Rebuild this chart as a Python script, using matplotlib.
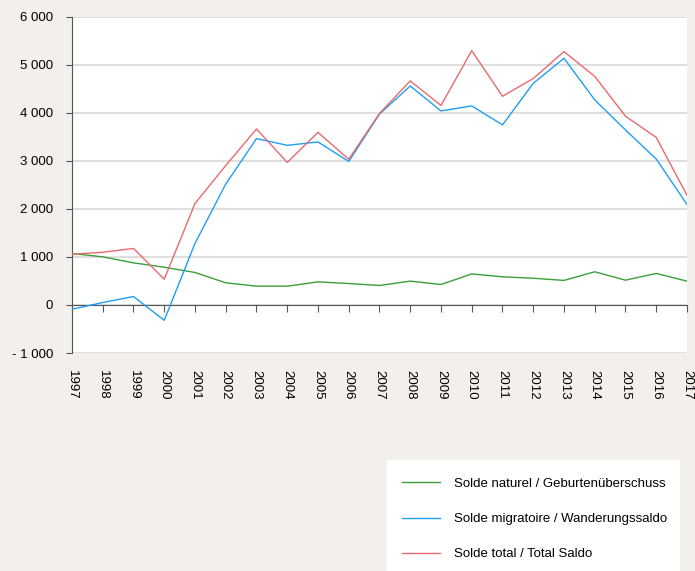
import matplotlib.pyplot as plt
from matplotlib.patches import Rectangle
from matplotlib.ticker import FuncFormatter

plt.rcParams['font.family'] = ['Liberation Sans', 'DejaVu Sans']

# data
years = list(range(1997, 2018))
natural = [1070, 1000, 875, 785, 675, 460, 390, 390, 480, 445, 405,
           495, 425, 645, 585, 555, 510, 690, 515, 655, 495]
migration = [-90, 50, 175, -320, 1280, 2515, 3460, 3320, 3390, 2985, 3970,
             4555, 4035, 4140, 3745, 4610, 5130, 4265, 3640, 3035, 2090]
total = [1055, 1095, 1175, 535, 2110, 2900, 3660, 2965, 3590, 3030, 3985,
         4660, 4150, 5290, 4340, 4710, 5270, 4755, 3925, 3485, 2280]
labels = ['Solde naturel / Geburtenüberschuss',
          'Solde migratoire / Wanderungssaldo',
          'Solde total / Total Saldo']
colors = ['#3A9F3A', '#1E9FF2', '#E86A6E']

W, H = 695, 571
fig = plt.figure(figsize=(W / 100, H / 100), dpi=100)
fig.patch.set_facecolor('#F3EFEB')
ax = fig.add_axes([72 / W, 1 - 353 / H, 615 / W, 336.5 / H])
ax.set_facecolor('white')

for series, lab, col in zip([natural, migration, total], labels, colors):
    ax.plot(years, series, color=col, lw=1.0, label=lab, zorder=3)

ax.set_xlim(1997, 2017)
ax.set_ylim(-1000, 6000)
ax.set_yticks(range(-1000, 6001, 1000))
ax.yaxis.set_major_formatter(FuncFormatter(
    lambda v, p: ('- ' if v < 0 else '') + f'{abs(int(v)):,}'.replace(',', ' ')))
ax.grid(axis='y', color='#DCDCDC', lw=1.3, zorder=0)

for s in ['top', 'right']:
    ax.spines[s].set_visible(False)
ax.spines['left'].set_color('#555555')
ax.spines['bottom'].set_position(('data', 0))
ax.spines['bottom'].set_color('#555555')
ax.spines['bottom'].set_zorder(2)

ax.set_xticks(years)
ax.set_xticklabels([str(y) for y in years], rotation=270)
ax.tick_params(axis='x', length=5, color='#555555', pad=42, labelsize=9.5)
ax.tick_params(axis='y', length=4.5, color='#555555', pad=9, labelsize=9.5)

# legend box
fig.add_artist(Rectangle((387 / W, 0), (680 - 387) / W, (571 - 460) / H,
                         transform=fig.transFigure, facecolor='white',
                         edgecolor='none', zorder=1))
leg = fig.legend(loc='upper left', bbox_to_anchor=(395 / W, 1 - 471 / H),
                 frameon=False, fontsize=9.5, handlelength=2.9,
                 handletextpad=1.1, labelspacing=1.75, borderpad=0)
leg.set_zorder(2)

fig.savefig('out.png', dpi=100, facecolor=fig.get_facecolor())
